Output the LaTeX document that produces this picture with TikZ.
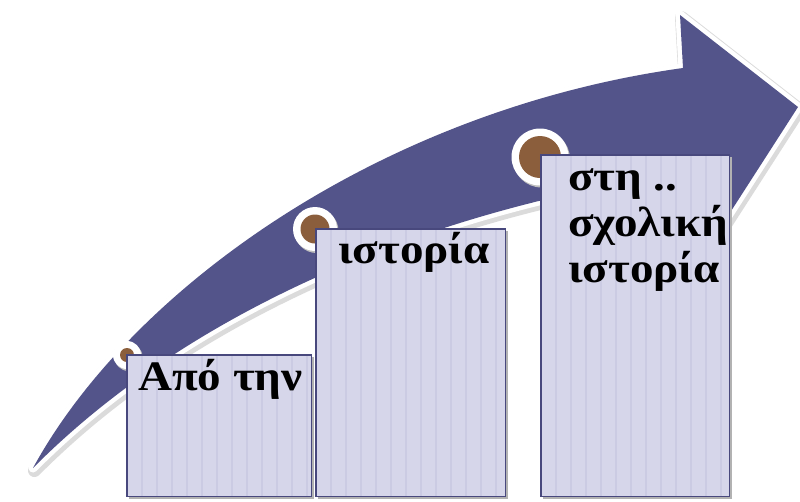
\documentclass[tikz,border=0pt]{standalone}
\usepackage{fontspec}
\setmainfont{Liberation Serif}[FakeStretch=1.12]
\definecolor{arrowpurple}{RGB}{83,84,138}
\definecolor{brownc}{RGB}{139,94,60}
\definecolor{boxfill}{RGB}{214,214,234}
\definecolor{stripec}{RGB}{203,203,227}
\definecolor{boxline}{RGB}{72,72,125}
\tikzset{
  arrowshadow/.style={draw=black!14, line width=13pt, line join=round, shift={(1.5,2.5)}},
  arrowwhite/.style={draw=white, line width=9pt, line join=round},
  arrowbody/.style={fill=arrowpurple},
  ringshadow/.style={circle, fill=black!25, inner sep=0pt},
  ring/.style={circle, fill=white, inner sep=0pt},
  dot/.style={circle, fill=brownc, inner sep=0pt},
  boxshadow/.style={fill=black!30},
  stepbox/.style={rectangle, fill=boxfill, draw=none, inner sep=0pt, anchor=north west},
  stripe/.style={draw=stripec, line width=1.3pt},
  boxborder/.style={draw=boxline, line width=1.5pt},
  lbl/.style={font=\bfseries\fontsize{42}{46}\selectfont, inner sep=0pt, text=black}
}
\begin{document}
\begin{tikzpicture}[x=1pt,y=-1pt]
\useasboundingbox (0,0) rectangle (800,501);
% arrow
\foreach \st in {arrowshadow,arrowwhite,arrowbody}{
  \path[\st] (33,468) .. controls (130,290) and (380,110) .. (683,68) -- (680,15) -- (798,107) -- (706,250) -- (690,172) .. controls (450,205) and (200,300) .. (33,468) -- cycle;
}
% circles
\node[ringshadow, minimum size=28pt] at (128.5,357) {};
\node[ring, minimum size=28pt] (c1) at (127,355) {};
\node[dot, minimum size=14pt] (d1) at (c1) {};
\node[ringshadow, minimum size=44pt] at (316.5,231) {};
\node[ring, minimum size=44pt] (c2) at (315,229) {};
\node[dot, minimum size=29pt] (d2) at (c2) {};
\node[ringshadow, minimum size=57pt] at (541.5,159) {};
\node[ring, minimum size=57pt] (c3) at (540,157) {};
\node[dot, minimum size=42pt] (d3) at (c3) {};
% boxes
\fill[boxshadow] (129,357) rectangle (314,499);
\fill[boxshadow] (318,231) rectangle (508,499);
\fill[boxshadow] (543,157) rectangle (732,499);
\node[stepbox, minimum width=184pt, minimum height=141pt] (b1) at (127,355) {};
\node[stepbox, minimum width=189pt, minimum height=267pt] (b2) at (316,229) {};
\node[stepbox, minimum width=188pt, minimum height=341pt] (b3) at (541,155) {};
\foreach \b in {b1,b2,b3}{
  \begin{scope}
    \clip (\b.north west) rectangle (\b.south east);
    \foreach \k in {1,...,12}
      \draw[stripe] ([xshift=\k*15pt]\b.north west) -- ([xshift=\k*15pt]\b.south west);
  \end{scope}
  \draw[boxborder] (\b.north west) rectangle (\b.south east);
}
% labels
\node[lbl, anchor=base west] (t1) at (138,390) {Από την};
\node[lbl, anchor=base west] (t2) at (338,263) {ιστορία};
\node[lbl, anchor=north west, align=left] (t3) at (568,168) {στη ..\\σχολική\\ιστορία};
\end{tikzpicture}
\end{document}
